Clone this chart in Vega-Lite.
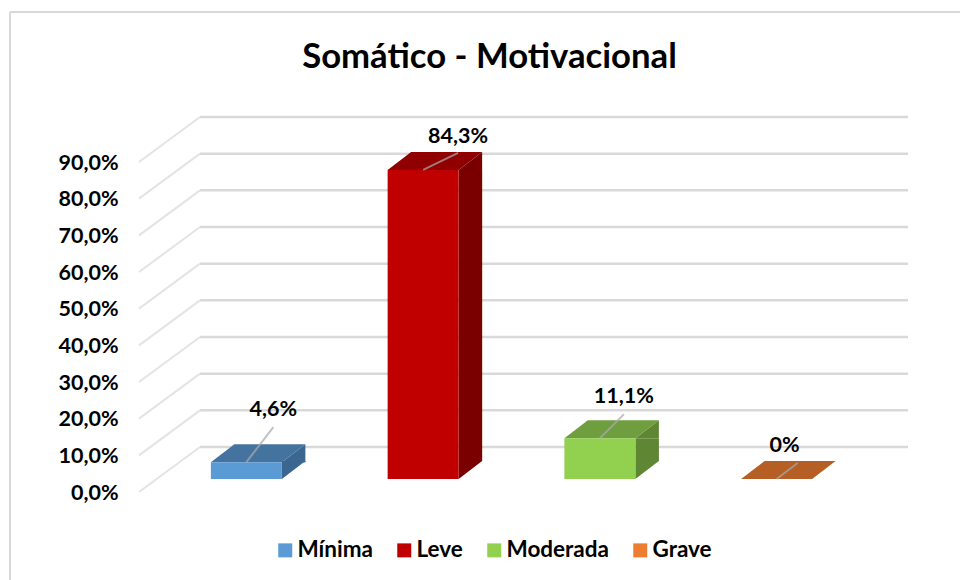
{
"$schema":"https://vega.github.io/schema/vega-lite/v6.json",
"width":707,"height":330,
"autosize":{"type":"none"},
"padding":{"left":158,"top":149,"right":95,"bottom":101},
"background":"white",
"title":{"text":"Somático - Motivacional","font":"Lato","fontSize":34.7,"fontWeight":"bold","color":"#000000","anchor":"middle","frame":"group","dx":-22,"baseline":"alphabetic","offset":-92},
"config":{"view":{"stroke":null}},
"datasets":{
"bars":[
{"categoria":"Mínima","valor":4.6,"rotulo":"4,6%"},
{"categoria":"Leve","valor":84.3,"rotulo":"84,3%"},
{"categoria":"Moderada","valor":11.1,"rotulo":"11,1%"},
{"categoria":"Grave","valor":0,"rotulo":"0%"}],
"grade":[{"t":0},{"t":10},{"t":20},{"t":30},{"t":40},{"t":50},{"t":60},{"t":70},{"t":80},{"t":90}]
},
"data":{"name":"bars"},
"resolve":{"scale":{"color":"independent"}},
"layer":[
{"mark":{"type":"rule","color":"#D9D9D9","strokeWidth":2},"encoding":{"x":{"value":-148},"y":{"value":-137},"y2":{"value":431}}},
{"mark":{"type":"rule","color":"#D9D9D9","strokeWidth":2},"encoding":{"y":{"value":-137},"x":{"value":-148},"x2":{"value":802}}},
{"data":{"name":"grade"},"mark":{"type":"rule","color":"#D9D9D9","strokeWidth":2.5,"yOffset":-32},"encoding":{"x":{"value":42},"x2":{"value":750},"y":{"field":"t","type":"quantitative","scale":{"domain":[0,90],"nice":false},"axis":{"title":null,"values":[0,10,20,30,40,50,60,70,80,90],"tickCount":10,"domain":false,"ticks":false,"grid":false,"offset":40,"labelPadding":0,"labelOffset":14,"labelOverlap":false,"labelFlush":false,"labelBound":false,"labelSeparation":0,"labelFont":"Lato","labelFontSize":21.5,"labelFontWeight":"bold","labelColor":"#000000","labelExpr":"replace(format(datum.value,'.1f'),'.',',')+'%'"}}}},
{"data":{"name":"grade"},"mark":{"type":"point","filled":false,"stroke":"#D9D9D9","strokeWidth":2,"size":4,"shape":"M-19,13L42,-32"},"encoding":{"x":{"value":0},"y":{"field":"t","type":"quantitative"}}},
{"transform":[{"filter":"datum.valor>0"}],"mark":{"type":"bar","size":23.5,"xOffset":47.3,"y2Offset":-18},"encoding":{"x":{"field":"categoria","type":"nominal","sort":null,"scale":{"domain":["Mínima","Leve","Moderada","Grave"],"paddingInner":0,"paddingOuter":0,"align":0.5},"axis":null},"y":{"field":"valor","type":"quantitative"},"y2":{"datum":0},"color":{"field":"categoria","type":"nominal","sort":null,"legend":null,"scale":{"domain":["Mínima","Leve","Moderada","Grave"],"range":["#3A6690","#7A0000","#5F8633","#A9561F"]}}}},
{"transform":[{"filter":"datum.valor>0"}],"mark":{"type":"point","filled":true,"strokeWidth":0,"opacity":1,"size":4,"shape":"M35.5,0L59,-18L59,0Z"},"encoding":{"x":{"field":"categoria","type":"nominal","sort":null,"axis":null},"y":{"field":"valor","type":"quantitative"},"color":{"field":"categoria","type":"nominal","sort":null,"legend":null,"scale":{"domain":["Mínima","Leve","Moderada","Grave"],"range":["#3A6690","#7A0000","#5F8633","#A9561F"]}}}},
{"transform":[{"filter":"datum.valor>0"}],"mark":{"type":"point","filled":true,"strokeWidth":0,"opacity":1,"size":4,"shape":"M35.5,0L35.5,-18L59,-18Z"},"encoding":{"x":{"field":"categoria","type":"nominal","sort":null,"axis":null},"y":{"datum":0},"color":{"field":"categoria","type":"nominal","sort":null,"legend":null,"scale":{"domain":["Mínima","Leve","Moderada","Grave"],"range":["#3A6690","#7A0000","#5F8633","#A9561F"]}}}},
{"mark":{"type":"point","filled":true,"strokeWidth":0,"opacity":1,"size":4,"shape":"M-35.5,0L35.5,0L59,-18L-12,-18Z"},"encoding":{"x":{"field":"categoria","type":"nominal","sort":null,"axis":null},"y":{"field":"valor","type":"quantitative"},"color":{"field":"categoria","type":"nominal","sort":null,"legend":null,"scale":{"domain":["Mínima","Leve","Moderada","Grave"],"range":["#44739F","#900000","#6F9E3E","#B55F24"]}}}},
{"mark":{"type":"bar","size":71},"encoding":{"x":{"field":"categoria","type":"nominal","sort":null,"axis":null},"y":{"field":"valor","type":"quantitative"},"y2":{"datum":0},"color":{"field":"categoria","type":"nominal","sort":null,"scale":{"domain":["Mínima","Leve","Moderada","Grave"],"range":["#5B9BD5","#C00000","#92D050","#ED7D31"]},"legend":{"title":null,"orient":"none","legendX":116,"legendY":390,"direction":"horizontal","columns":4,"symbolType":"square","symbolSize":196,"symbolStrokeWidth":0,"labelFont":"Lato","labelFontSize":22.5,"labelFontWeight":"bold","labelColor":"#000000","columnPadding":20,"labelOffset":1}}}},
{"transform":[{"filter":"datum.categoria==='Mínima'"}],"layer":[
{"mark":{"type":"point","filled":false,"stroke":"#ABABAB","strokeWidth":2,"size":4,"shape":"M0,0L27,-35"},"encoding":{"x":{"field":"categoria","type":"nominal","sort":null,"axis":null},"y":{"field":"valor","type":"quantitative"}}},
{"mark":{"type":"text","font":"Lato","fontSize":21.5,"fontWeight":"bold","color":"#000000","dx":27,"dy":-52},"encoding":{"x":{"field":"categoria","type":"nominal","sort":null,"axis":null},"y":{"field":"valor","type":"quantitative"},"text":{"field":"rotulo"}}}]},
{"transform":[{"filter":"datum.categoria==='Leve'"}],"layer":[
{"mark":{"type":"point","filled":false,"stroke":"#ABABAB","strokeWidth":2,"size":4,"shape":"M0,0L35,-17"},"encoding":{"x":{"field":"categoria","type":"nominal","sort":null,"axis":null},"y":{"field":"valor","type":"quantitative"}}},
{"mark":{"type":"text","font":"Lato","fontSize":21.5,"fontWeight":"bold","color":"#000000","dx":35,"dy":-33},"encoding":{"x":{"field":"categoria","type":"nominal","sort":null,"axis":null},"y":{"field":"valor","type":"quantitative"},"text":{"field":"rotulo"}}}]},
{"transform":[{"filter":"datum.categoria==='Moderada'"}],"layer":[
{"mark":{"type":"point","filled":false,"stroke":"#ABABAB","strokeWidth":2,"size":4,"shape":"M0,0L24,-24"},"encoding":{"x":{"field":"categoria","type":"nominal","sort":null,"axis":null},"y":{"field":"valor","type":"quantitative"}}},
{"mark":{"type":"text","font":"Lato","fontSize":21.5,"fontWeight":"bold","color":"#000000","dx":24,"dy":-41},"encoding":{"x":{"field":"categoria","type":"nominal","sort":null,"axis":null},"y":{"field":"valor","type":"quantitative"},"text":{"field":"rotulo"}}}]},
{"transform":[{"filter":"datum.categoria==='Grave'"}],"layer":[
{"mark":{"type":"point","filled":false,"stroke":"#ABABAB","strokeWidth":2,"size":4,"shape":"M0,0L21,-16"},"encoding":{"x":{"field":"categoria","type":"nominal","sort":null,"axis":null},"y":{"field":"valor","type":"quantitative"}}},
{"mark":{"type":"text","font":"Lato","fontSize":21.5,"fontWeight":"bold","color":"#000000","dx":8,"dy":-33},"encoding":{"x":{"field":"categoria","type":"nominal","sort":null,"axis":null},"y":{"field":"valor","type":"quantitative"},"text":{"field":"rotulo"}}}]}
]
}
